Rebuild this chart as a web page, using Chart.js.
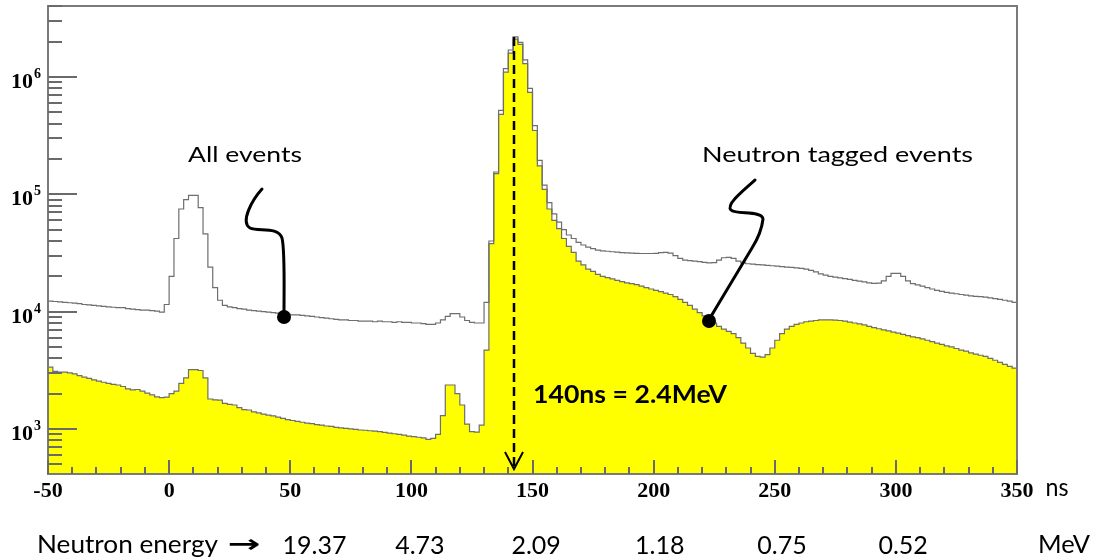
<!DOCTYPE html>
<html><head><meta charset="utf-8">
<script src="https://cdn.jsdelivr.net/npm/chart.js@4.4.1/dist/chart.umd.min.js"></script>
<style>html,body{margin:0;padding:0;background:#fff;}#wrap{width:1099px;height:560px;}</style>
</head><body><div id="wrap"><canvas id="c" width="1099" height="560"></canvas></div>
<script>
// Histogram binning (ns)
const binLow = -50, binHigh = 350, binWidth = 2;
// All events counts per bin (starting at -50 ns, 2 ns bins)
const allEvents = [
12300,12200,12100,12000,11900,11800,11700,11500,11400,11300,
11200,11100,11000,10900,10800,10800,10600,10500,10400,10300,
10300,10200,10100,9900,11500,20000,42000,75000,90000,98000,
98000,77000,46000,24000,16000,12500,11300,11000,10800,10600,
10500,10300,10200,10100,10000,9900,9800,9700,9600,9500,
9400,9400,9300,9200,9100,9000,8900,8800,8700,8600,
8500,8500,8400,8400,8300,8300,8300,8200,8300,8200,
8200,8100,8200,8100,8100,8000,8000,7900,7800,7800,
8000,8500,9100,9600,9600,9000,8400,8100,8000,8000,
12000,40000,155000,520000,1180000,1700000,2200000,1970000,1400000,800000,
385000,195000,120000,85000,68000,58000,50000,45000,42000,39000,
37000,35500,34500,33500,33000,32700,32400,32100,31900,31700,
31500,31400,31300,31300,31300,31400,31800,32000,31500,30000,
28500,27500,27200,27000,26700,26300,26000,26200,27500,28800,
29000,28500,27000,26000,25600,25400,25200,25000,24800,24600,
24400,24200,24000,23800,23600,23400,23000,22500,21800,21000,
20500,20000,19700,19400,19100,18800,18500,18200,17900,17600,
17400,17500,18300,20000,21200,21200,20000,18300,17300,16900,
16500,16000,15600,15200,14900,14600,14400,14200,14000,13800,
13600,13500,13400,13300,13100,12900,12700,12500,12300,12000];
// Neutron tagged events counts per bin
const taggedEvents = [
3370,3100,3050,3050,3000,2950,2850,2770,2700,2620,
2560,2500,2450,2400,2370,2300,2200,2150,2170,2100,
2020,1950,1880,1850,1870,2000,2100,2450,2720,3200,
3200,3150,2720,1800,1770,1760,1650,1620,1600,1520,
1460,1450,1400,1370,1340,1310,1290,1260,1230,1200,
1180,1160,1140,1120,1110,1090,1080,1060,1050,1030,
1020,1010,1000,990,980,975,965,960,950,935,
920,910,900,885,870,860,850,840,815,830,
900,1300,2370,2370,2000,1600,1100,950,940,1080,
4700,38000,150000,480000,1100000,1600000,2100000,1900000,1300000,740000,
350000,175000,110000,75000,60000,51000,42000,36000,32000,27000,
25000,23000,22000,20800,20000,19500,19000,18500,18000,17600,
17300,17000,16500,16000,15600,15200,14800,14400,14000,13400,
12700,12000,11300,10500,9800,9200,8500,8000,7500,7100,
6800,6500,6000,5400,4900,4400,4150,4100,4300,4900,
5700,6500,7100,7500,7800,8000,8200,8300,8400,8500,
8500,8500,8450,8400,8300,8150,8000,7850,7700,7500,
7300,7150,7000,6850,6700,6550,6400,6250,6100,6000,
5850,5700,5550,5400,5250,5100,5000,4850,4700,4600,
4450,4350,4250,4150,4000,3850,3700,3550,3420,3300];
// Axis ticks
const xTickValues = [-50,0,50,100,150,200,250,300,350];
const xTickLabels = ['-50','0','50','100','150','200','250','300','350'];
const yTickValues = [1e3,1e4,1e5,1e6];
const yTickExponents = ['3','4','5','6'];
const yMin = 413, yMax = 4.03e6;
// Neutron energy row
const energyLabels = ['19.37','4.73','2.09','1.18','0.75','0.52'];
const energyAt = [60,103.5,151.5,202.5,253,303];
const markerNs = 142.5;

function histPoints(vals){
  const pts = vals.map((v,i)=>({x: binLow + i*binWidth, y: v}));
  pts.push({x: binHigh, y: vals[vals.length-1]});
  return pts;
}

function fitText(ctx, text, x, y, w, font, align){
  ctx.save();
  ctx.font = font;
  const m = ctx.measureText(text).width;
  const s = w ? w / m : 1;
  ctx.translate(x, y);
  ctx.scale(s, 1);
  ctx.textAlign = align || 'center';
  ctx.textBaseline = 'alphabetic';
  ctx.fillText(text, 0, 0);
  ctx.restore();
}

const decor = {
  id: 'decor',
  afterDatasetsDraw(chart){
    const ctx = chart.ctx, a = chart.chartArea;
    const xs = chart.scales.x, ys = chart.scales.y;
    ctx.save();
    // frame
    ctx.strokeStyle = '#7a7a7a'; ctx.lineWidth = 2;
    ctx.strokeRect(a.left, a.top, a.right - a.left, a.bottom - a.top);
    // y ticks
    ctx.strokeStyle = '#6a6a6a'; ctx.lineWidth = 2;
    for (let d = 2; d <= 6; d++) {
      for (let m = 1; m <= 9; m++) {
        const v = m * Math.pow(10, d);
        if (v < yMin || v > yMax) continue;
        const py = Math.round(ys.getPixelForValue(v));
        const len = m === 1 ? 29 : 14;
        ctx.beginPath(); ctx.moveTo(a.left, py); ctx.lineTo(a.left + len, py); ctx.stroke();
      }
    }
    // x ticks
    for (let t = binLow; t <= binHigh; t += 10) {
      const px = Math.round(xs.getPixelForValue(t));
      const len = (t % 50 === 0) ? 14 : 7;
      ctx.beginPath(); ctx.moveTo(px, a.bottom); ctx.lineTo(px, a.bottom - len); ctx.stroke();
    }
    // tick labels
    ctx.fillStyle = '#000';
    ctx.font = 'bold 22px "Liberation Serif"';
    ctx.textAlign = 'center'; ctx.textBaseline = 'alphabetic';
    xTickValues.forEach((v,i)=>{
      ctx.fillText(xTickLabels[i], xs.getPixelForValue(v), 497);
    });
    yTickValues.forEach((v,i)=>{
      const py = ys.getPixelForValue(v);
      ctx.font = 'bold 22px "Liberation Serif"';
      ctx.textAlign = 'right';
      ctx.fillText('10', 33, py + 11);
      ctx.font = 'bold 14px "Liberation Serif"';
      ctx.textAlign = 'left';
      ctx.fillText(yTickExponents[i], 34, py + 1);
    });
    // dashed marker arrow
    const mx = Math.round(xs.getPixelForValue(markerNs));
    ctx.strokeStyle = '#000'; ctx.lineWidth = 2.5;
    ctx.setLineDash([9,5]);
    ctx.beginPath(); ctx.moveTo(mx, 37); ctx.lineTo(mx, 468); ctx.stroke();
    ctx.setLineDash([]);
    ctx.lineWidth = 2;
    ctx.beginPath(); ctx.moveTo(mx - 9, 452); ctx.lineTo(mx, 469); ctx.lineTo(mx + 9, 452); ctx.stroke();
    // callouts
    ctx.lineWidth = 3; ctx.lineCap = 'round'; ctx.lineJoin = 'round';
    ctx.beginPath();
    ctx.moveTo(262,189);
    ctx.bezierCurveTo(252,200,240,222,250,228);
    ctx.bezierCurveTo(258,232,278,226,282,238);
    ctx.bezierCurveTo(285,250,284,280,284,318);
    ctx.stroke();
    ctx.beginPath(); ctx.arc(284,317,7,0,Math.PI*2); ctx.fill();
    ctx.beginPath();
    ctx.moveTo(755,180);
    ctx.bezierCurveTo(740,193,726,205,731,210);
    ctx.bezierCurveTo(736,215,762,210,763,219);
    ctx.bezierCurveTo(762,228,757,240,752,248);
    ctx.lineTo(710,318);
    ctx.stroke();
    ctx.beginPath(); ctx.arc(709,321,7,0,Math.PI*2); ctx.fill();
    // annotation texts
    fitText(ctx, 'All events', 245, 162, 114, '22px Lato');
    fitText(ctx, 'Neutron tagged events', 837.5, 162, 271, '22px Lato');
    fitText(ctx, '140ns = 2.4MeV', 533, 403, 194, 'bold 25px Lato', 'left');
    fitText(ctx, 'ns', 1057, 496, 23, '25px Lato');
    // energy row
    fitText(ctx, 'Neutron energy', 37, 553, 181, '25px Lato', 'left');
    fitText(ctx, '\u2192', 244, 552, 33, 'bold 24px "DejaVu Sans"');
    energyLabels.forEach((t,i)=>{
      fitText(ctx, t, xs.getPixelForValue(energyAt[i]), 554, null, '25px Lato');
    });
    fitText(ctx, 'MeV', 1064, 553, 52, '25px Lato');
    ctx.restore();
  }
};

new Chart(document.getElementById('c'), {
  type: 'line',
  data: {
    datasets: [
      { label: 'All events', data: histPoints(allEvents), stepped: true,
        borderColor: '#6e6e6e', borderWidth: 1.2, pointRadius: 0, fill: false },
      { label: 'Neutron tagged events', data: histPoints(taggedEvents), stepped: true,
        borderColor: '#6e6e6e', borderWidth: 1.2, pointRadius: 0,
        backgroundColor: '#ffff00', fill: 'start' }
    ]
  },
  options: {
    responsive: false, animation: false,
    layout: { padding: { left: 48, top: 6, right: 82, bottom: 86 } },
    plugins: { legend: { display: false }, tooltip: { enabled: false } },
    scales: {
      x: { type: 'linear', min: binLow, max: binHigh, display: false },
      y: { type: 'logarithmic', min: yMin, max: yMax, display: false }
    }
  },
  plugins: [decor]
});
</script>
</body></html>
